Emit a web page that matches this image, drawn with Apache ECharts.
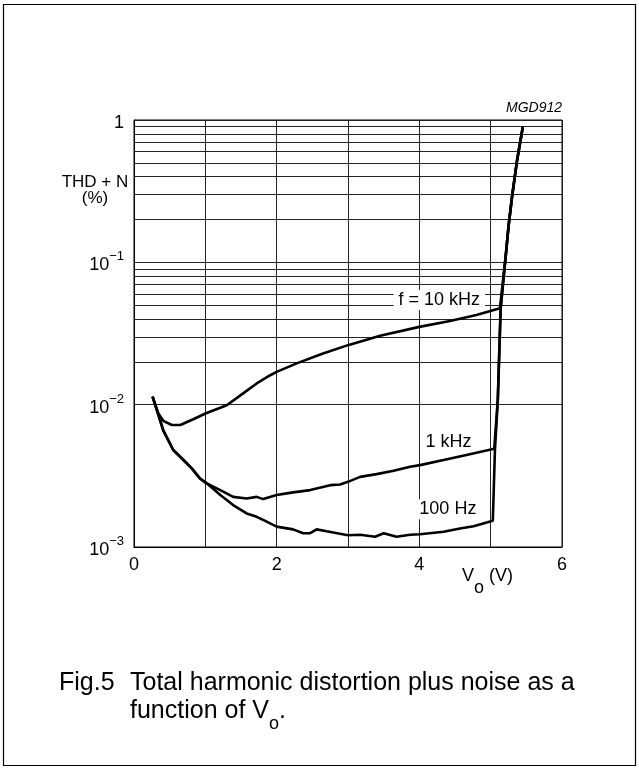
<!DOCTYPE html>
<html>
<head>
<meta charset="utf-8">
<script src="https://cdn.jsdelivr.net/npm/echarts@6/dist/echarts.min.js"></script>
<style>
html,body{margin:0;padding:0;background:#fff;}
#chart{width:639px;height:769px;}
</style>
</head>
<body>
<div id="chart"></div>
<script>
// ---- data ----
const xTicks = [0, 1, 2, 3, 4, 5, 6];
const yDecades = [0.001, 0.01, 0.1, 1];

const volts10k = [0.26, 0.34, 0.41, 0.53, 0.65, 0.83, 1.01, 1.30, 1.53, 1.72, 1.91, 2.0, 2.28, 2.65, 3.0, 3.45, 4.0, 4.43, 4.80, 5.13, 5.215, 5.25, 5.30, 5.37, 5.45];
const thd10k   = [0.0114, 0.0087, 0.0077, 0.0072, 0.0072, 0.0079, 0.0087, 0.0099, 0.0120, 0.0141, 0.0161, 0.0170, 0.0195, 0.0229, 0.0262, 0.0305, 0.0352, 0.0387, 0.0426, 0.0475, 0.116, 0.178, 0.29, 0.52, 0.89];

const volts1k = [0.26, 0.32, 0.41, 0.55, 0.69, 0.81, 0.925, 1.02, 1.21, 1.39, 1.58, 1.72, 1.81, 2.0, 2.23, 2.47, 2.75, 2.89, 3.0, 3.17, 3.40, 3.64, 3.87, 4.01, 4.34, 4.66, 5.05, 5.10, 5.14, 5.215, 5.25, 5.30, 5.37, 5.45];
const thd1k   = [0.0114, 0.0092, 0.0066, 0.0048, 0.0041, 0.00357, 0.00303, 0.0028, 0.00251, 0.00225, 0.00219, 0.00225, 0.00217, 0.00232, 0.00242, 0.00251, 0.00272, 0.00275, 0.00287, 0.00311, 0.00325, 0.00343, 0.00366, 0.00376, 0.00408, 0.00443, 0.0049, 0.0108, 0.0475, 0.116, 0.178, 0.29, 0.52, 0.89];

const volts100 = [0.26, 0.32, 0.41, 0.55, 0.69, 0.81, 0.925, 1.02, 1.21, 1.39, 1.58, 1.72, 1.81, 2.0, 2.23, 2.37, 2.47, 2.56, 2.70, 3.0, 3.17, 3.38, 3.50, 3.68, 3.87, 4.01, 4.34, 4.57, 4.76, 5.03, 5.06, 5.10, 5.14, 5.215, 5.25, 5.30, 5.37, 5.45];
const thd100   = [0.0114, 0.0092, 0.0066, 0.0048, 0.0041, 0.00357, 0.00303, 0.0028, 0.00232, 0.00197, 0.00172, 0.00163, 0.00155, 0.00139, 0.00133, 0.00125, 0.00125, 0.00133, 0.00129, 0.00121, 0.00122, 0.00118, 0.00125, 0.00118, 0.00122, 0.00123, 0.00128, 0.00135, 0.0014, 0.00153, 0.0048, 0.0108, 0.0475, 0.116, 0.178, 0.29, 0.52, 0.89];

const seriesNames = ['f = 10 kHz', '1 kHz', '100 Hz'];
const labelAnchors = [[4.28, 0.0543], [4.41, 0.0055], [4.40, 0.00184]];

// ---- helpers ----
function zip(xs, ys) { return xs.map((x, i) => [x, ys[i]]); }
const minorLines = [];
yDecades.slice(0, -1).forEach(d => { for (let k = 2; k <= 9; k++) minorLines.push({ yAxis: d * k }); });

const FONT = '"Liberation Sans", Arial, Helvetica, sans-serif';
const chart = echarts.init(document.getElementById('chart'), null, { renderer: 'canvas' });

function curve(name, data, anchor) {
  return {
    name: name, type: 'line', data: data, showSymbol: false, symbol: 'none',
    z: 10, animation: false, silent: true,
    lineStyle: { color: '#000', width: 2.6 },
    markPoint: {
      z: 5, silent: true, animation: false,
      symbol: 'rect', symbolSize: 1, itemStyle: { color: 'rgba(0,0,0,0)' },
      data: [{ coord: anchor, name: name }],
      label: {
        show: true, position: 'inside', formatter: name,
        color: '#000', fontFamily: FONT, fontSize: 18,
        backgroundColor: '#fff', padding: [1, 5, 1, 5]
      }
    }
  };
}

const option = {
  animation: false,
  backgroundColor: '#fff',
  grid: { left: 134, right: 77, top: 120, bottom: 222, containLabel: false, outerBoundsMode: 'none',
          show: true, borderColor: '#000', borderWidth: 1, backgroundColor: 'transparent' },
  xAxis: {
    type: 'value', min: 0, max: 6, interval: 1,
    axisLine: { show: true, lineStyle: { color: '#000', width: 1 } },
    axisTick: { show: false },
    splitLine: { show: true, lineStyle: { color: '#222', width: 1 } },
    axisLabel: {
      color: '#000', fontFamily: FONT, fontSize: 18, margin: 9,
      formatter: v => (xTicks.indexOf(v) >= 0 && v % 2 === 0) ? String(v) : ''
    }
  },
  yAxis: {
    type: 'log', logBase: 10, min: 0.001, max: 1,
    axisLine: { show: true, lineStyle: { color: '#000', width: 1 } },
    axisTick: { show: false },
    splitLine: { show: true, lineStyle: { color: '#222', width: 1 } },
    axisLabel: {
      color: '#000', fontFamily: FONT, margin: 10,
      formatter: v => {
        const e = Math.round(Math.log10(v));
        if (e === 0) return '{b|1}';
        return '{b|10}{s|\u2212' + (-e) + '}';
      },
      rich: {
        b: { fontSize: 18, fontFamily: FONT, color: '#000', lineHeight: 24, verticalAlign: 'bottom' },
        s: { fontSize: 13, fontFamily: FONT, color: '#000', lineHeight: 14, verticalAlign: 'top' }
      }
    }
  },
  series: [
    {
      name: 'minor', type: 'line', data: [], z: 1, silent: true, animation: false,
      markLine: {
        z: 1, silent: true, animation: false, symbol: ['none', 'none'],
        label: { show: false },
        lineStyle: { color: '#222', width: 1, type: 'solid' },
        data: minorLines
      }
    },
    curve(seriesNames[0], zip(volts10k, thd10k), labelAnchors[0]),
    curve(seriesNames[1], zip(volts1k, thd1k), labelAnchors[1]),
    curve(seriesNames[2], zip(volts100, thd100), labelAnchors[2])
  ],
  graphic: [
    { type: 'rect', shape: { x: 3.5, y: 4.5, width: 632, height: 761 }, style: { fill: 'none', stroke: '#000', lineWidth: 1.2 }, silent: true, z: 0 },
    { type: 'text', x: 562, y: 108, style: { text: 'MGD912', font: 'italic 14px ' + FONT, fill: '#000', textAlign: 'right', textVerticalAlign: 'middle' } },
    { type: 'text', x: 95, y: 190, style: { text: 'THD + N\n(%)', font: '17px ' + FONT, fill: '#000', textAlign: 'center', textVerticalAlign: 'middle', lineHeight: 16 } },
    { type: 'text', x: 462, y: 582, style: {
        text: '{a|V}{o|o}{a| (V)}', textVerticalAlign: 'middle', textAlign: 'left',
        rich: {
          a: { fontSize: 18, fontFamily: FONT, fill: '#000', lineHeight: 30, verticalAlign: 'top' },
          o: { fontSize: 18, fontFamily: FONT, fill: '#000', lineHeight: 30, verticalAlign: 'bottom' }
        } } },
    { type: 'text', x: 59, y: 683, style: { text: 'Fig.5', font: '25px ' + FONT, fill: '#000', textVerticalAlign: 'middle' } },
    { type: 'text', x: 130, y: 683, style: { text: 'Total harmonic distortion plus noise as a', font: '25px ' + FONT, fill: '#000', textVerticalAlign: 'middle' } },
    { type: 'text', x: 130, y: 716, style: {
        text: '{a|function of V}{o|o}{a|.}', textVerticalAlign: 'middle', textAlign: 'left',
        rich: {
          a: { fontSize: 25, fontFamily: FONT, fill: '#000', lineHeight: 34, verticalAlign: 'top' },
          o: { fontSize: 18, fontFamily: FONT, fill: '#000', lineHeight: 34, verticalAlign: 'bottom' }
        } } }
  ]
};
chart.setOption(option);
</script>
</body>
</html>
